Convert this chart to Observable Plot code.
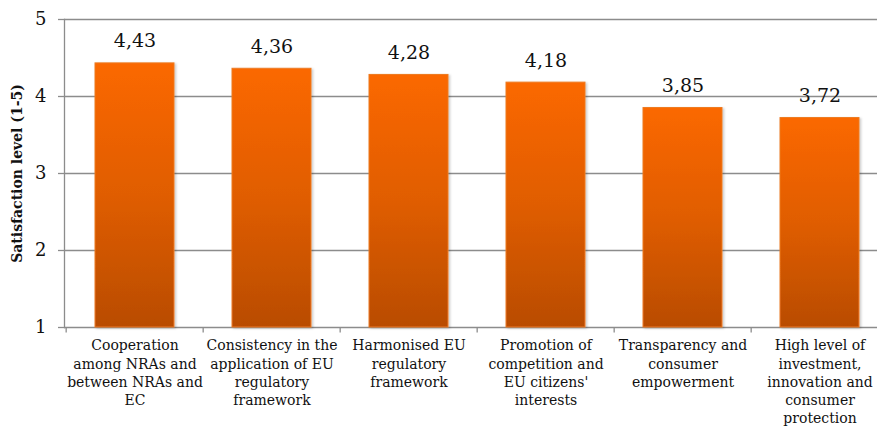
<!DOCTYPE html>
<html>
<head>
<meta charset="utf-8">
<script src="https://cdn.jsdelivr.net/npm/d3@7"></script>
<script src="https://cdn.jsdelivr.net/npm/@observablehq/plot@0.6"></script>
<style>
  html, body { margin: 0; padding: 0; background: #ffffff; overflow: hidden; }
  #chart svg { display: block; }
</style>
</head>
<body>
<div id="chart"></div>
<script>
// Objectives, as they are printed under the axis (line breaks included)
const categories = [
  "Cooperation\namong NRAs and\nbetween NRAs and\nEC",
  "Consistency in the\napplication of EU\nregulatory\nframework",
  "Harmonised EU\nregulatory\nframework",
  "Promotion of\ncompetition and\nEU citizens'\ninterests",
  "Transparency and\nconsumer\nempowerment",
  "High level of\ninvestment,\ninnovation and\nconsumer\nprotection"
];
// Mean satisfaction score per objective
const scores = [4.43, 4.36, 4.28, 4.18, 3.85, 3.72];
// Scale ticks
const yTicks = [1, 2, 3, 4, 5];
const yTitle = "Satisfaction level (1-5)";

const data = categories.map((category, i) => ({category, score: scores[i]}));

// Decimal comma formatting
const commaLocale = d3.formatLocale({decimal: ",", thousands: ".", grouping: [3], currency: ["", " €"]});
const fmt = commaLocale.format(".2f");

const width = 877;
const height = 426;
const xRange = [64, 890];
const step = (xRange[1] - xRange[0]) / categories.length;

// Vertical gradient shared by all bars (top bright orange, bottom burnt orange)
const gradientDefs = () => {
  const ns = "http://www.w3.org/2000/svg";
  const defs = document.createElementNS(ns, "defs");
  defs.innerHTML =
    `<linearGradient id="barFill" x1="0" y1="0" x2="0" y2="1">
       <stop offset="0" stop-color="#fb6800"/>
       <stop offset="0.5" stop-color="#e05d02"/>
       <stop offset="1" stop-color="#b94c05"/>
     </linearGradient>
     <filter id="barShadow" x="-10%" y="-10%" width="130%" height="130%">
       <feDropShadow dx="1.5" dy="1" stdDeviation="1.2" flood-color="#000" flood-opacity="0.22"/>
     </filter>`;
  return defs;
};

const chart = Plot.plot({
  width,
  height,
  marginLeft: 64,
  marginRight: 0,
  marginTop: 19,
  marginBottom: 99,
  style: {fontFamily: "'DejaVu Serif', serif", color: "#111111", background: "#ffffff"},
  x: {domain: categories, range: xRange, paddingInner: 0.42, paddingOuter: 0.21, axis: null},
  y: {domain: [1, 5], ticks: yTicks, axis: null},
  marks: [
    gradientDefs,
    Plot.gridY(yTicks, {stroke: "#8c8c8c", strokeOpacity: 1, strokeWidth: 1.3}),
    Plot.frame({anchor: "left", stroke: "#8c8c8c", strokeWidth: 1.3}),
    // tick marks at category boundaries below the baseline
    Plot.ruleX(categories, {x: d => d, y1: 1, y2: 0.93, dx: -step / 2, stroke: "#8c8c8c", strokeWidth: 1.3}),
    Plot.barY(data, {
      x: "category",
      y1: 1,
      y2: "score",
      fill: "url(#barFill)",
      stroke: "#ee7a20",
      strokeWidth: 1
    }),
    Plot.text(data, {
      x: "category",
      y: "score",
      text: d => fmt(d.score),
      dy: -22,
      fontSize: 19,
      fill: "#111111"
    }),
    Plot.axisY({
      ticks: yTicks,
      tickSize: 6,
      tickPadding: 12,
      stroke: "#8c8c8c",
      strokeWidth: 1.3,
      fontSize: 18,
      label: null,
      tickFormat: d => String(d)
    }),
    Plot.axisX({
      tickSize: 0,
      tickPadding: 10,
      fontSize: 14,
      lineHeight: 1.3,
      lineAnchor: "top",
      label: null,
      tickFormat: d => d
    }),
    Plot.text([yTitle], {
      frameAnchor: "left",
      textAnchor: "middle",
      rotate: -90,
      dx: -47,
      fontSize: 14,
      fontWeight: "bold",
      fill: "#111111"
    })
  ]
});

// soft drop shadow under the bars
chart.querySelectorAll("g[aria-label='bar'] rect").forEach(r => r.setAttribute("filter", "url(#barShadow)"));

document.getElementById("chart").append(chart);
</script>
</body>
</html>
